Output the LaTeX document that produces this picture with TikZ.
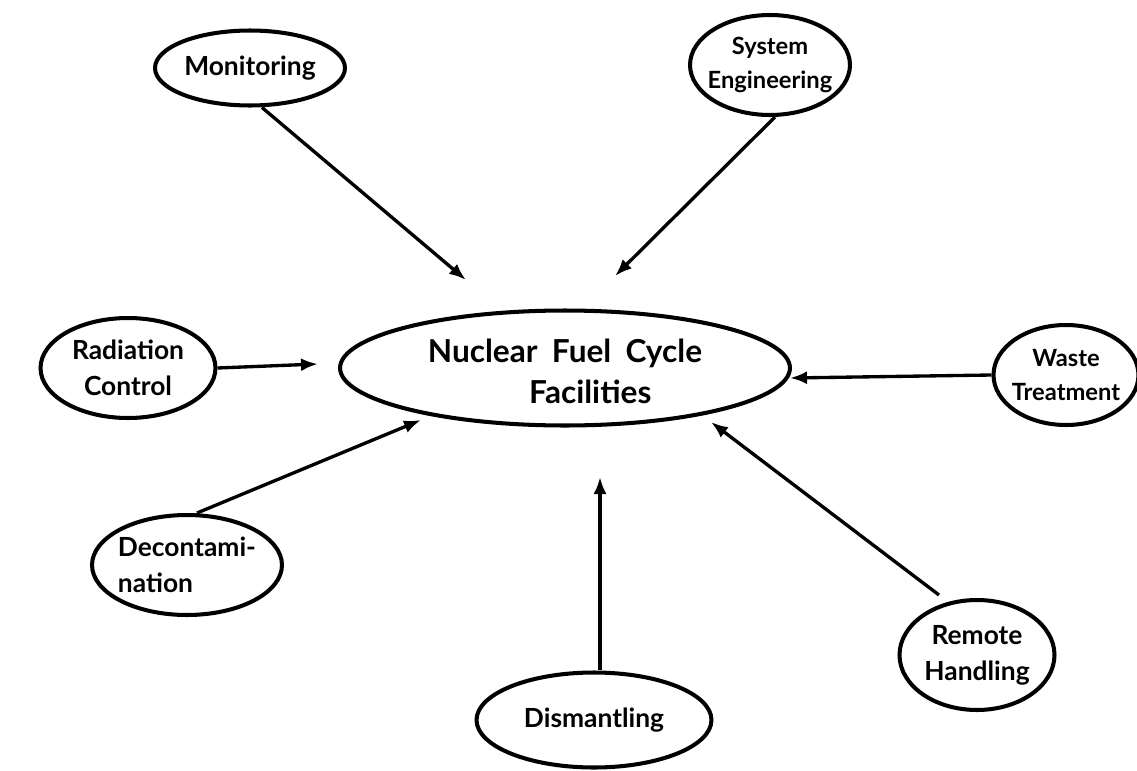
\documentclass[tikz,border=0pt]{standalone}
\usepackage{fontspec}
\setmainfont{Lato}
\usetikzlibrary{shapes.geometric,arrows.meta}
\begin{document}
\begin{tikzpicture}[x=0.02cm,y=-0.02cm,
  oval/.style={draw, line width=2.3pt, ellipse, inner sep=0pt},
  lbl/.style={font=\bfseries\fontsize{15}{20.5}\selectfont, align=center},
  smlbl/.style={font=\bfseries\fontsize{13.5}{19.5}\selectfont, align=center},
  biglbl/.style={font=\bfseries\fontsize{18}{23}\selectfont, align=center},
  conn/.style={line width=1.9pt, -{Latex[length=3.4mm,width=2.6mm]}}]
\useasboundingbox[fill=white] (0,0) rectangle (1137,771);

\node[oval, minimum width=3.8cm, minimum height=1.5cm] (mon) at (250,68) {};
\node[lbl] at (mon) {Monitoring};

\node[oval, minimum width=3.2cm, minimum height=2.0cm] (sys) at (770,65) {};
\node[smlbl] at (sys) {System\\Engineering};

\node[oval, minimum width=9.0cm, minimum height=2.3cm] (nfc) at (565,368) {};
\node[biglbl] at ([yshift=-2]nfc.center) {Nuclear\hspace{0.45em}Fuel\hspace{0.45em}Cycle\\\hspace*{1.6em}Facilities};

\node[oval, minimum width=3.5cm, minimum height=2.0cm] (rad) at (128,368) {};
\node[lbl] at (rad) {Radiation\\Control};

\node[oval, minimum width=2.9cm, minimum height=2.0cm] (wst) at (1066,375) {};
\node[smlbl] at (wst) {Waste\\Treatment};

\node[oval, minimum width=3.8cm, minimum height=2.0cm] (dec) at (187,565) {};
\node[lbl, align=left] at (dec) {Decontami-\\nation};

\node[oval, minimum width=4.7cm, minimum height=1.9cm] (dis) at (594,720) {};
\node[lbl] at (dis) {Dismantling};

\node[oval, minimum width=3.1cm, minimum height=2.2cm] (rem) at (977,655) {};
\node[lbl] at (rem) {Remote\\Handling};

\coordinate (tmon) at (466,280);
\coordinate (tsys) at (615,276);
\coordinate (trad) at (318,364);
\coordinate (twst) at (790,378);
\coordinate (tdec) at (421,420);
\coordinate (tdis) at (600,477);
\coordinate (trem) at (711,422);

\draw[conn] (mon.south) ++(12,0) -- (tmon);
\draw[conn] (sys) ++(5,52) -- (tsys);
\draw[conn] (rad.east) -- (trad);
\draw[conn] (wst.west) -- (twst);
\draw[conn] (dec.north) ++(10,0) -- (tdec);
\draw[conn] (dis.north) ++(6,0) -- (tdis);
\draw[conn] (rem.north) ++(-38,-3) -- (trem);
\end{tikzpicture}
\end{document}
